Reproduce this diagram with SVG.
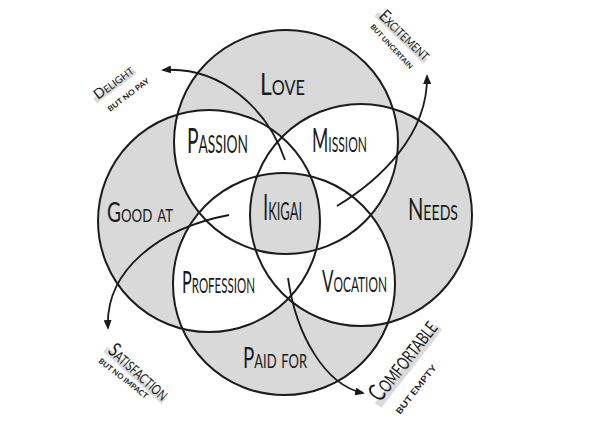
<svg xmlns="http://www.w3.org/2000/svg" width="590" height="423" viewBox="0 0 590 423">
<style>
.ring{fill:none;stroke:#1c1c1c;stroke-width:2}
.g{fill:#d9d9d9}
.w{fill:#ffffff}
.lbl{font-family:"Lato","Liberation Sans",sans-serif;font-weight:400;font-variant:small-caps;fill:#1a1a1a}
.sub{font-family:"Lato","Liberation Sans",sans-serif;font-weight:700;fill:#1a1a1a}
.band{fill:#dadada}
.conn{fill:none;stroke:#1a1a1a;stroke-width:1.8}
</style>
<defs>
<clipPath id="cG"><circle cx="209" cy="221" r="111"/></clipPath>
<clipPath id="cN"><circle cx="361" cy="215" r="111"/></clipPath>
<clipPath id="cP"><circle cx="284" cy="284" r="111"/></clipPath>
<marker id="ah" markerUnits="userSpaceOnUse" markerWidth="10" markerHeight="8" refX="8" refY="4" orient="auto">
<path d="M0,0 L10,4 L0,8 z" fill="#1a1a1a"/>
</marker>
</defs>
<rect width="590" height="423" fill="#ffffff"/>
<g id="regions">
<circle class="g" cx="286" cy="142" r="112"/>
<circle class="g" cx="209" cy="221" r="111"/>
<circle class="g" cx="361" cy="215" r="111"/>
<circle class="g" cx="284" cy="284" r="111"/>
<circle class="w" cx="286" cy="142" r="112" clip-path="url(#cG)"/>
<circle class="w" cx="286" cy="142" r="112" clip-path="url(#cN)"/>
<circle class="w" cx="286" cy="142" r="112" clip-path="url(#cP)"/>
<circle class="w" cx="209" cy="221" r="111" clip-path="url(#cN)"/>
<circle class="w" cx="209" cy="221" r="111" clip-path="url(#cP)"/>
<circle class="w" cx="361" cy="215" r="111" clip-path="url(#cP)"/>
<g clip-path="url(#cN)"><g clip-path="url(#cP)"><circle class="g" cx="286" cy="142" r="112" clip-path="url(#cG)"/></g></g>
</g>
<g id="love"><circle class="ring" cx="286" cy="142" r="112"/>
<text class="lbl" x="260" y="95" font-size="31" textLength="45" lengthAdjust="spacingAndGlyphs">Love</text></g>
<g id="good-at"><circle class="ring" cx="209" cy="221" r="111"/>
<text class="lbl" x="107" y="222" font-size="26" textLength="66" lengthAdjust="spacingAndGlyphs">Good at</text></g>
<g id="needs"><circle class="ring" cx="361" cy="215" r="111"/>
<text class="lbl" x="408" y="220" font-size="30" textLength="50" lengthAdjust="spacingAndGlyphs">Needs</text></g>
<g id="paid-for"><circle class="ring" cx="284" cy="284" r="111"/>
<text class="lbl" x="243" y="368" font-size="29" textLength="64" lengthAdjust="spacingAndGlyphs">Paid for</text></g>
<g id="passion"><text class="lbl" x="187" y="153" font-size="35" textLength="61" lengthAdjust="spacingAndGlyphs">Passion</text></g>
<g id="mission"><text class="lbl" x="312" y="152" font-size="32" textLength="55" lengthAdjust="spacingAndGlyphs">Mission</text></g>
<g id="ikigai"><text class="lbl" x="263" y="220" font-size="36" textLength="39" lengthAdjust="spacingAndGlyphs">Ikigai</text></g>
<g id="profession"><text class="lbl" x="182" y="293" font-size="31" textLength="73" lengthAdjust="spacingAndGlyphs">Profession</text></g>
<g id="vocation"><text class="lbl" x="322" y="292" font-size="30" textLength="65" lengthAdjust="spacingAndGlyphs">Vocation</text></g>
<g id="connectors">
<path class="conn" d="M285,160 C268,110 222,66 163,70" marker-end="url(#ah)"/>
<path class="conn" d="M337,206 C380,180 428,135 427,76" marker-end="url(#ah)"/>
<path class="conn" d="M229,215 C160,228 105,270 108,328" marker-end="url(#ah)"/>
<path class="conn" d="M288,278 C296,335 325,385 363,393" marker-end="url(#ah)"/>
</g>
<g id="delight">
<g transform="translate(98,100) rotate(-37)"><rect class="band" x="-3" y="-4" width="50" height="6"/>
<text class="lbl" x="0" y="0" font-size="14" textLength="46" lengthAdjust="spacingAndGlyphs">Delight</text></g>
<text class="sub" transform="translate(110,112) rotate(-37)" font-size="7.5" textLength="50" lengthAdjust="spacingAndGlyphs">BUT NO PAY</text>
</g>
<g id="excitement">
<g transform="translate(378,17) rotate(44)"><rect class="band" x="-3" y="-4" width="68" height="6"/>
<text class="lbl" x="0" y="0" font-size="17" textLength="64" lengthAdjust="spacingAndGlyphs">Excitement</text></g>
<text class="sub" transform="translate(370,27) rotate(47)" font-size="7" textLength="58" lengthAdjust="spacingAndGlyphs">BUT UNCERTAIN</text>
</g>
<g id="satisfaction">
<g transform="translate(107,352) rotate(42)"><rect class="band" x="-3" y="-4" width="78" height="6"/>
<text class="lbl" x="0" y="0" font-size="20" textLength="74" lengthAdjust="spacingAndGlyphs">Satisfaction</text></g>
<text class="sub" transform="translate(98,362) rotate(38)" font-size="7.5" textLength="60" lengthAdjust="spacingAndGlyphs">BUT NO IMPACT</text>
</g>
<g id="comfortable">
<g transform="translate(380,403) rotate(-52)"><rect class="band" x="-3" y="-4" width="99" height="8"/>
<text class="lbl" x="0" y="0" font-size="25" textLength="95" lengthAdjust="spacingAndGlyphs">Comfortable</text></g>
<text class="sub" transform="translate(400,415) rotate(-52)" font-size="8.5" textLength="60" lengthAdjust="spacingAndGlyphs">BUT EMPTY</text>
</g>
</svg>
